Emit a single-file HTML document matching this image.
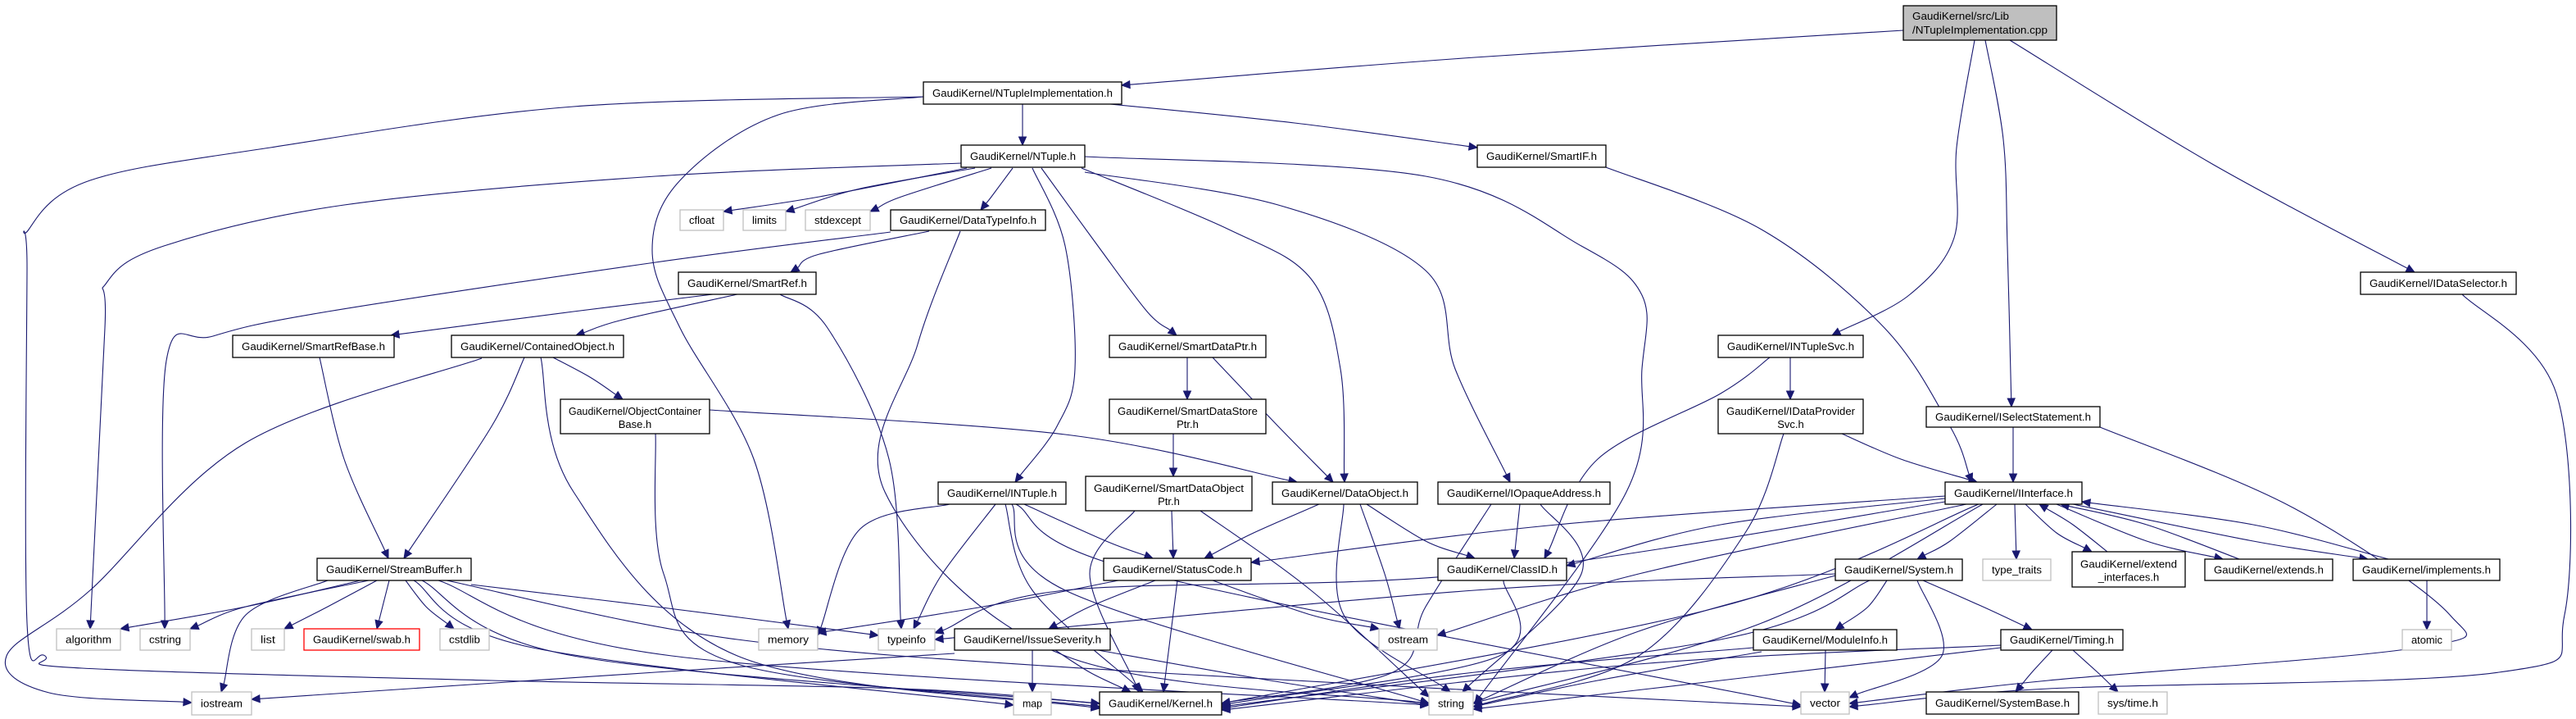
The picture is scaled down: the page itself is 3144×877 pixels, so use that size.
<!DOCTYPE html>
<html><head><meta charset="utf-8"><style>
html,body{margin:0;padding:0;background:#fff;width:3144px;height:877px;overflow:hidden}
svg text{font-family:"Liberation Sans",sans-serif;font-size:13px;fill:#000}
</style></head><body>
<svg id="g" width="3144" height="877" viewBox="0 0 3144 877" xmlns="http://www.w3.org/2000/svg">
<g id="edges" fill="none" stroke="#191970" stroke-width="1.1"></g>
<g id="arrows" fill="#191970" stroke="#191970"></g>
<g id="nodes" stroke-width="1.3">
<rect x="2323" y="7" width="187" height="42" fill="#bfbfbf" stroke="#000"/>
<text x="2334" y="24" textLength="118" lengthAdjust="spacingAndGlyphs">GaudiKernel/src/Lib</text>
<text x="2334" y="41" textLength="165" lengthAdjust="spacingAndGlyphs">/NTupleImplementation.cpp</text>
</g>
</svg>
<script>
var N={
NTI:[1127,100,1369,127,"GaudiKernel/NTupleImplementation.h"],
NTuple:[1173,177,1324,204,"GaudiKernel/NTuple.h"],
SmartIF:[1803,177,1960,204,"GaudiKernel/SmartIF.h"],
cfloat:[830,256,883,281,"cfloat",1],
limits:[907,256,959,281,"limits",1],
stdexcept:[983,256,1062,281,"stdexcept",1],
DTI:[1087,256,1276,281,"GaudiKernel/DataTypeInfo.h"],
SmartRef:[828,332,996,359,"GaudiKernel/SmartRef.h"],
IDataSelector:[2881,332,3071,359,"GaudiKernel/IDataSelector.h"],
SmartRefBase:[284,409,481,436,"GaudiKernel/SmartRefBase.h"],
Contained:[551,409,761,436,"GaudiKernel/ContainedObject.h"],
SmartDataPtr:[1354,409,1545,436,"GaudiKernel/SmartDataPtr.h"],
INTupleSvc:[2097,409,2274,436,"GaudiKernel/INTupleSvc.h"],
ObjCont:[684,487,866,529,"GaudiKernel/ObjectContainer|Base.h"],
SDStore:[1354,487,1545,529,"GaudiKernel/SmartDataStore|Ptr.h"],
IDataProv:[2097,487,2274,529,"GaudiKernel/IDataProvider|Svc.h"],
ISelect:[2351,496,2563,521,"GaudiKernel/ISelectStatement.h"],
INTuple:[1145,588,1301,615,"GaudiKernel/INTuple.h"],
SDObj:[1325,581,1528,623,"GaudiKernel/SmartDataObject|Ptr.h"],
DataObject:[1553,588,1730,615,"GaudiKernel/DataObject.h"],
IOpaque:[1755,588,1965,615,"GaudiKernel/IOpaqueAddress.h"],
Interface:[2374,588,2541,615,"GaudiKernel/IInterface.h"],
StreamBuffer:[387,681,575,708,"GaudiKernel/StreamBuffer.h"],
StatusCode:[1347,681,1527,708,"GaudiKernel/StatusCode.h"],
ClassID:[1755,681,1912,708,"GaudiKernel/ClassID.h"],
System:[2240,682,2395,708,"GaudiKernel/System.h"],
type_traits:[2420,682,2503,708,"type_traits",1],
extIf:[2529,673,2667,716,"GaudiKernel/extend|_interfaces.h"],
extends:[2691,682,2847,708,"GaudiKernel/extends.h"],
implements:[2872,682,3051,708,"GaudiKernel/implements.h"],
algorithm:[69,767,147,793,"algorithm",1],
cstring:[171,767,232,793,"cstring",1],
list:[307,767,347,793,"list",1],
swab:[371,767,512,793,"GaudiKernel/swab.h",2],
cstdlib:[537,767,597,793,"cstdlib",1],
memory:[926,767,998,793,"memory",1],
typeinfo:[1072,767,1141,793,"typeinfo",1],
IssueSev:[1165,767,1355,793,"GaudiKernel/IssueSeverity.h"],
ostream:[1683,767,1754,793,"ostream",1],
ModuleInfo:[2140,768,2315,793,"GaudiKernel/ModuleInfo.h"],
Timing:[2442,768,2591,793,"GaudiKernel/Timing.h"],
atomic:[2932,768,2992,793,"atomic",1],
iostream:[234,844,307,872,"iostream",1],
map:[1237,844,1283,872,"map",1],
Kernel:[1342,844,1491,872,"GaudiKernel/Kernel.h"],
string:[1744,844,1798,872,"string",1],
vector:[2198,844,2257,871,"vector",1],
SystemBase:[2351,844,2537,871,"GaudiKernel/SystemBase.h"],
systime:[2561,844,2645,871,"sys/time.h",1]
};
var NS="http://www.w3.org/2000/svg";
function mk(t,a,p){var e=document.createElementNS(NS,t);for(var k in a)e.setAttribute(k,a[k]);p.appendChild(e);return e;}
var ng=document.getElementById("nodes");
for(var k in N){var n=N[k],x1=n[0],y1=n[1],w=n[2]-n[0],h=n[3]-n[1];
 mk("rect",{x:x1,y:y1,width:w,height:h,fill:"#fff",stroke:n[5]?"#bfbfbf":"#000"},ng);
 var lines=n[4].split("|");
 if(lines.length==1){var t=mk("text",{x:x1+w/2,y:y1+h/2+4.5,"text-anchor":"middle",textLength:Math.max(10,w-22),lengthAdjust:"spacingAndGlyphs"},ng);
  if(n[5]==2)t.setAttribute("fill","#ff0000");t.textContent=lines[0];}
 else{for(var i=0;i<2;i++){var t=mk("text",{x:x1+w/2,y:y1+h/2+(i?14:-2),"text-anchor":"middle"},ng);
  if(i==0)t.setAttribute("textLength",w-20),t.setAttribute("lengthAdjust","spacingAndGlyphs");t.textContent=lines[i];}}
 if(n[5]==2){ng.lastChild.previousSibling.setAttribute("stroke","#ff0000");}
}
var E=[
[[2323,37],[1800,70],[1369,104]],
[[2410,49],[2388,180],[2385,290],[2330,360],[2236,409]],
[[2423,49],[2445,170],[2450,300],[2455,496]],
[[2453,49],[2700,200],[2947,332]],
[[1248,127],[1248,177]],
[[1355,127],[1580,150],[1803,180]],
[[1127,118],[950,140],[830,220],[796,305],[830,400],[920,560],[962,767]],
[[1127,118],[700,130],[330,180],[110,220],[35,280],[33,330],[33,760],[55,800],[100,815],[600,830],[1100,840],[1342,858]],
[[1173,199],[800,215],[420,250],[200,300],[130,345],[128,400],[110,767]],
[[1180,205],[1000,240],[883,258]],
[[1190,205],[1050,230],[959,258]],
[[1210,205],[1100,240],[1062,258]],
[[1236,205],[1210,240],[1197,256]],
[[1260,205],[1300,300],[1312,450],[1290,520],[1239,588]],
[[1271,205],[1340,300],[1400,380],[1436,409]],
[[1320,205],[1500,280],[1600,340],[1636,450],[1641,588]],
[[1324,210],[1560,250],[1740,330],[1776,450],[1843,588]],
[[1324,191],[1740,215],[1930,300],[2004,360],[2004,450],[1985,600],[1800,858]],
[[1134,282],[1000,310],[965,332]],
[[1087,283],[800,320],[400,380],[260,410],[203,440],[201,767]],
[[1172,282],[1120,420],[1080,600],[1300,800],[1744,858]],
[[870,359],[700,380],[477,409]],
[[900,359],[760,390],[703,409]],
[[952,359],[1010,400],[1085,560],[1100,767]],
[[390,436],[420,560],[474,681]],
[[640,436],[600,520],[493,681]],
[[675,436],[720,460],[760,487]],
[[588,437],[300,540],[110,720],[8,800],[60,845],[234,857]],
[[660,436],[700,600],[900,800],[1342,864]],
[[866,500],[1300,530],[1583,588]],
[[800,529],[810,700],[900,810],[1342,862]],
[[440,708],[300,740],[147,767]],
[[450,708],[300,740],[232,767]],
[[460,708],[400,740],[347,767]],
[[475,708],[460,767]],
[[495,708],[520,740],[554,767]],
[[400,708],[300,750],[270,844]],
[[575,713],[800,740],[1072,775]],
[[515,708],[700,800],[1342,858]],
[[535,708],[820,800],[1744,860]],
[[545,708],[900,780],[1400,820],[2198,862]],
[[505,708],[650,790],[1237,860]],
[[1449,436],[1449,487]],
[[1480,436],[1560,520],[1627,588]],
[[1432,529],[1432,581]],
[[1430,623],[1432,681]],
[[1385,623],[1330,700],[1390,844]],
[[1465,623],[1600,720],[1744,850]],
[[1250,615],[1350,660],[1407,681]],
[[1215,615],[1150,700],[1115,767]],
[[1227,615],[1260,720],[1395,844]],
[[1235,615],[1300,720],[1744,858]],
[[1240,615],[1400,700],[2198,860]],
[[1159,615],[1050,645],[998,775]],
[[1610,615],[1530,650],[1470,681]],
[[1668,615],[1740,660],[1800,681]],
[[1660,615],[1690,700],[1708,767]],
[[1640,615],[1640,750],[1770,844]],
[[1855,615],[1848,681]],
[[1880,615],[1930,700],[1785,844]],
[[1820,615],[1740,740],[1700,820],[1491,858]],
[[1410,708],[1330,740],[1280,767]],
[[1437,708],[1420,844]],
[[1480,708],[1600,750],[1683,767]],
[[1365,708],[1200,740],[998,772]],
[[1260,793],[1260,844]],
[[1288,793],[1330,820],[1380,844]],
[[1340,793],[1550,830],[1744,860]],
[[1165,797],[800,820],[307,853]],
[[1835,708],[1830,800],[1491,860]],
[[1960,204],[2150,280],[2300,400],[2380,520],[2407,588]],
[[2185,436],[2185,487]],
[[2160,436],[2100,480],[1950,560],[1885,681]],
[[2248,529],[2320,560],[2413,588]],
[[2177,529],[2130,650],[2000,800],[1798,862]],
[[2457,521],[2457,588]],
[[2563,521],[2800,620],[2990,750],[2950,790],[2500,830],[2257,858]],
[[3005,359],[3120,480],[3130,750],[3050,820],[2500,840],[2257,862]],
[[2374,605],[1900,640],[1527,686]],
[[2374,608],[2100,640],[1912,690]],
[[2437,615],[2380,660],[2340,682]],
[[2459,615],[2461,682]],
[[2472,615],[2510,650],[2553,673]],
[[2572,673],[2530,640],[2489,615]],
[[2510,615],[2620,660],[2713,682]],
[[2733,682],[2620,640],[2515,615]],
[[2530,615],[2750,660],[2890,682]],
[[2915,682],[2750,640],[2541,612]],
[[2374,612],[1800,700],[1300,720],[1141,772]],
[[2400,615],[2000,700],[1754,775]],
[[2415,615],[2100,740],[1491,858]],
[[2420,615],[2150,760],[1798,858]],
[[2962,708],[2962,768]],
[[2303,708],[2280,740],[2240,768]],
[[2347,708],[2420,740],[2480,768]],
[[2282,708],[2100,780],[1491,862]],
[[2240,702],[2000,770],[1798,858]],
[[2340,708],[2370,800],[2257,851]],
[[2240,700],[1800,720],[1141,780]],
[[2140,790],[1800,820],[1491,864]],
[[2150,795],[1950,830],[1798,862]],
[[2228,793],[2227,844]],
[[2505,793],[2480,820],[2460,844]],
[[2530,793],[2560,820],[2585,844]],
[[2442,787],[2000,810],[1491,866]],
[[2442,790],[2100,830],[1798,865]]
];
var eg=document.getElementById("edges"),ag=document.getElementById("arrows");
E.forEach(function(P){
 P=P.map(function(p){return p.slice();});
 var L=P.length,tip=P[L-1],pr=P[L-2];
 var dx=tip[0]-pr[0],dy=tip[1]-pr[1],d=Math.sqrt(dx*dx+dy*dy)||1;dx/=d;dy/=d;
 var al=10,aw=4.5;
 var base=[tip[0]-dx*al,tip[1]-dy*al];
 P[L-1]=base;
 var s="M"+P[0][0]+","+P[0][1];
 for(var i=0;i<L-1;i++){
  var p0=P[Math.max(0,i-1)],p1=P[i],p2=P[i+1],p3=P[Math.min(L-1,i+2)];
  var c1=[p1[0]+(p2[0]-p0[0])/6,p1[1]+(p2[1]-p0[1])/6];
  var c2=[p2[0]-(p3[0]-p1[0])/6,p2[1]-(p3[1]-p1[1])/6];
  s+=" C"+c1[0].toFixed(1)+","+c1[1].toFixed(1)+" "+c2[0].toFixed(1)+","+c2[1].toFixed(1)+" "+p2[0].toFixed(1)+","+p2[1].toFixed(1);
 }
 mk("path",{d:s},eg);
 var pts=[tip,[base[0]-dy*aw,base[1]+dx*aw],[base[0]+dy*aw,base[1]-dx*aw]];
 mk("polygon",{points:pts.map(function(p){return p[0].toFixed(1)+","+p[1].toFixed(1);}).join(" ")},ag);
});
</script>
</body></html>
